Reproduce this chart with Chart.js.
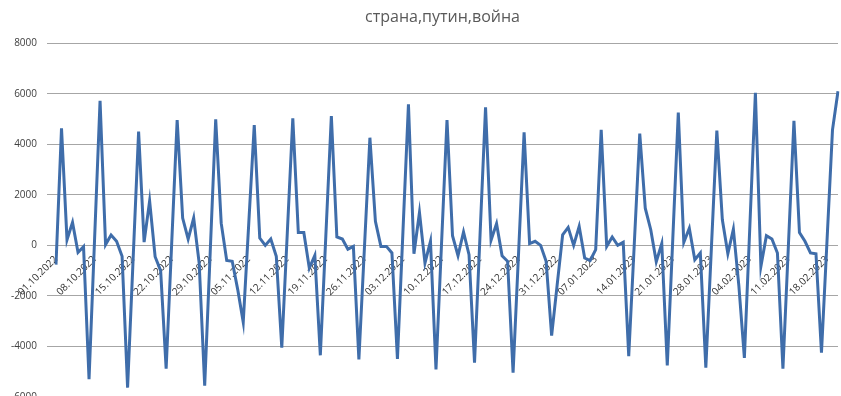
<!DOCTYPE html>
<html>
<head>
<meta charset="utf-8">
<script src="https://cdn.jsdelivr.net/npm/chart.js@4"></script>
<style>
  html, body { margin: 0; padding: 0; background: #fff; overflow: hidden; }
  #wrap { position: relative; width: 885px; height: 413px; }
</style>
</head>
<body>
<div id="wrap"><canvas id="chart"></canvas></div>
<script>
const title = "страна,путин,война";
const startDate = "2022-10-01";

// daily values
const values = [
  -760, 4630, 220, 910, -280, -50, -5300, 210, 5720, 30,
  410, 160, -430, -5630, -565, 4500, 130, 1760, -450, -1000,
  -4880, 40, 4960, 1080, 250, 1080, -700, -5550, -280, 4990,
  880, -600, -630, -1750, -3040, 860, 4760, 290, 0, 250,
  -430, -4050, 490, 5030, 510, 510, -900, -400, -4350, 385,
  5120, 330, 250, -150, -40, -4510, -125, 4260, 950, -40,
  -40, -300, -4490, 545, 5580, -330, 1300, -700, 160, -4910,
  25, 4960, 380, -410, 530, -370, -4640, 410, 5460, 200,
  860, -410, -630, -5040, -285, 4470, 70, 160, 0, -630,
  -3570, -1575, 420, 710, 0, 750, -500, -600, -170, 4570,
  -40, 330, 0, 120, -4380, 15, 4420, 1470, 620, -650,
  70, -4750, 255, 5260, 120, 680, -570, -300, -4840, -150,
  4540, 1010, -330, 640, -1600, -4450, 795, 6040, -830, 380,
  250, -300, -4880, 25, 4930, 510, 160, -300, -330, -4250,
  160, 4570, 6100
];

const yTicks = [-6000, -4000, -2000, 0, 2000, 4000, 6000, 8000];

// one label per day, dd.mm.yyyy
const labels = [];
const d0 = new Date(startDate + "T00:00:00Z");
for (let i = 0; i < values.length; i++) {
  const d = new Date(d0.getTime() + i * 86400000);
  const dd = String(d.getUTCDate()).padStart(2, "0");
  const mm = String(d.getUTCMonth() + 1).padStart(2, "0");
  labels.push(dd + "." + mm + "." + d.getUTCFullYear());
}

const ctx = document.getElementById("chart").getContext("2d");
new Chart(ctx, {
  type: "line",
  data: {
    labels: labels,
    datasets: [{
      data: values,
      borderColor: "#3F6DAA",
      borderWidth: 3,
      pointRadius: 0,
      tension: 0,
      fill: false
    }]
  },
  options: {
    responsive: true,
    maintainAspectRatio: false,
    animation: false,
    layout: { padding: 0 },
    plugins: {
      legend: { display: false },
      tooltip: { enabled: false },
      title: {
        display: true,
        text: title,
        color: "#595959",
        font: { family: "Open Sans", size: 16, weight: "normal" },
        padding: { top: 8, bottom: 16 }
      }
    },
    scales: {
      x: {
        position: { y: 0 },
        offset: false,
        grid: { display: false, drawTicks: false },
        border: { display: false },
        ticks: {
          autoSkip: false,
          minRotation: 45,
          maxRotation: 45,
          padding: 8,
          color: "#333333",
          font: { family: "Open Sans", size: 10 },
          callback: function (v, i) { return i % 7 === 0 ? labels[i] : ""; }
        },
        afterFit: function (scale) { scale.height = 0; }
      },
      y: {
        min: -6000,
        max: 8000,
        afterBuildTicks: function (scale) { scale.ticks = yTicks.map(v => ({ value: v })); },
        grid: { color: "#A6A6A6", lineWidth: 1, drawTicks: true, tickLength: 9 },
        border: { display: false },
        ticks: {
          padding: 10,
          color: "#404040",
          font: { family: "Open Sans", size: 10 },
          callback: function (v) { return String(v); }
        },
        afterFit: function (scale) { scale.width = 56; }
      },
      // empty strip on the right so the title stays centred over the full width
      yRight: {
        position: "right",
        grid: { display: false, drawTicks: false },
        border: { display: false },
        ticks: { display: false },
        afterFit: function (scale) { scale.width = 47; }
      }
    }
  }
});
</script>
</body>
</html>
